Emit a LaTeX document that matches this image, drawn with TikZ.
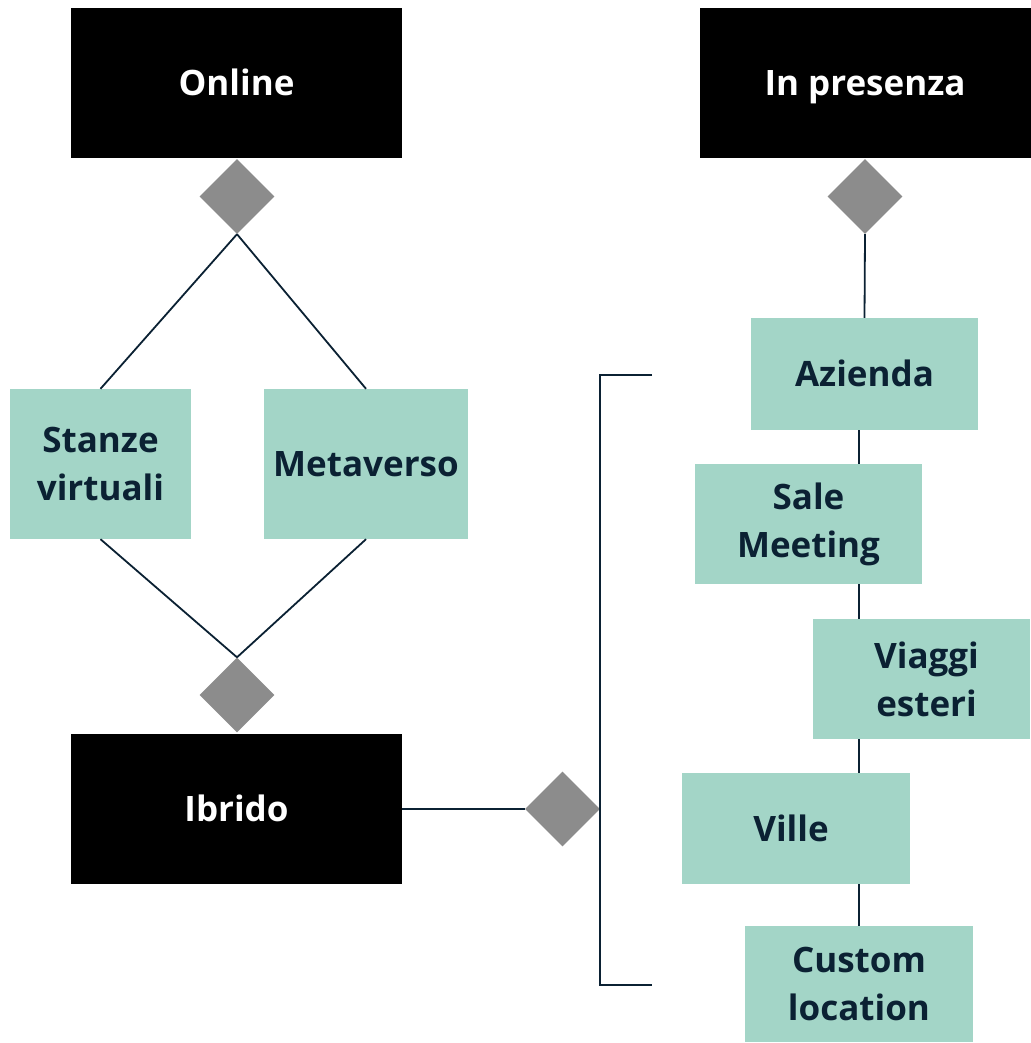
\documentclass[tikz,border=0pt]{standalone}
\usepackage{fontspec}
\setmainfont{Open Sans}
\usetikzlibrary{shapes.geometric}
\definecolor{boxgreen}{HTML}{A3D5C7}
\definecolor{navy}{HTML}{0B2133}
\definecolor{diagray}{HTML}{8C8C8C}
\begin{document}
\begin{tikzpicture}[x=1pt,y=-1pt,
  lbl/.style={font=\bfseries\fontsize{35}{48}\selectfont, align=center, inner sep=0pt},
  oneline/.style={text height=25pt, text depth=0pt},
  blackbox/.style={lbl, oneline, fill=black, text=white, minimum width=331pt, minimum height=150pt},
  greenbox/.style={lbl, fill=boxgreen, text=navy},
  dia/.style={diamond, aspect=1, fill=diagray, inner sep=0pt, minimum width=75pt, minimum height=75pt},
  conn/.style={draw=navy, line width=1.8pt}]
\useasboundingbox (0,0) rectangle (1030,1043);
% black boxes
\node[blackbox] (online) at (236.5,83) {Online};
\node[blackbox] (presenza) at (865,83) {In presenza};
\node[blackbox] (ibrido) at (236.5,809) {Ibrido};
% diamonds
\node[dia] (d1) at (237,196.5) {};
\node[dia] (d2) at (237,695) {};
\node[dia] (d3) at (562.5,809) {};
\node[dia] (d4) at (865,196.5) {};
% green boxes
\node[greenbox, minimum width=181pt, minimum height=150pt] (stanze) at (100.5,464) {Stanze\\virtuali};
\node[greenbox, oneline, minimum width=204pt, minimum height=150pt] (meta) at (366,464) {Metaverso};
\node[greenbox, oneline, minimum width=227pt, minimum height=112pt] (azienda) at (864.5,374) {Azienda};
\node[greenbox, minimum width=227pt, minimum height=120pt] (sale) at (808.5,524) {\raisebox{-3pt}{Sale}\\\raisebox{-3pt}{Meeting}};
\node[greenbox, minimum width=217pt, minimum height=120pt] (viaggi) at (921.5,679) {\hspace*{10pt}Viaggi\\\hspace*{10pt}esteri};
\node[greenbox, oneline, minimum width=228pt, minimum height=111pt] (ville) at (796,828.5) {Ville\hspace*{10pt}};
\node[greenbox, minimum width=228pt, minimum height=116pt] (custom) at (859,984) {\raisebox{-2pt}{Custom}\\\raisebox{-2pt}{location}};
% bracket coordinates
\coordinate (b1) at (652,375);
\coordinate (b2) at (600,375);
\coordinate (b3) at (600,985);
\coordinate (b4) at (652,985);
% connectors
\draw[conn] (d1.south) -- (stanze.north);
\draw[conn] (d1.south) -- (meta.north);
\draw[conn] (stanze.south) -- (d2.north);
\draw[conn] (meta.south) -- (d2.north);
\draw[conn] (ibrido.east) -- (d3.west);
\draw[conn] (b1) -- (b2) -- (b3) -- (b4);
\draw[conn] (d4.south) -- (azienda.north);
\draw[conn] (azienda.south -| custom.north) -- (sale.north -| custom.north);
\draw[conn] (sale.south -| custom.north) -- (viaggi.north -| custom.north);
\draw[conn] (viaggi.south -| custom.north) -- (ville.north -| custom.north);
\draw[conn] (ville.south -| custom.north) -- (custom.north);
\end{tikzpicture}
\end{document}
